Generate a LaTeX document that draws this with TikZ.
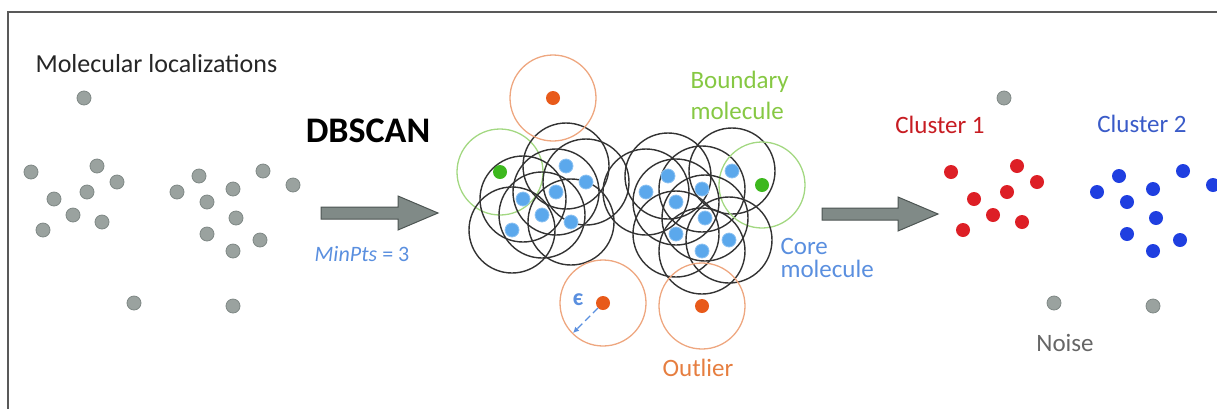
\documentclass[tikz,border=0pt]{standalone}
\usepackage{fontspec}
\setmainfont{Carlito}
\usetikzlibrary{arrows.meta}

\definecolor{dotgrey}{HTML}{9AA29F}
\definecolor{dotedge}{HTML}{7F8885}
\definecolor{coreblue}{HTML}{5BA8EC}
\definecolor{corelabel}{HTML}{5A8FDF}
\definecolor{bdgreen}{HTML}{3DB81E}
\definecolor{bdring}{HTML}{A3D882}
\definecolor{bdlabel}{HTML}{86C843}
\definecolor{outorange}{HTML}{E85A1A}
\definecolor{outring}{HTML}{EEA780}
\definecolor{outlabel}{HTML}{E67E40}
\definecolor{cloneRed}{HTML}{DD1F26}
\definecolor{cltwoBlue}{HTML}{1F3FE0}
\definecolor{cltwoLabel}{HTML}{3A5BC8}
\definecolor{arrowfill}{HTML}{808A87}
\definecolor{arrowedge}{HTML}{4D5553}

\begin{document}
\begin{tikzpicture}[x=1pt,y=-1pt,
    dot/.style={circle,inner sep=0pt,minimum size=14pt},
    rawdot/.style={dot,fill=dotgrey,draw=dotedge,line width=0.8pt},
    coredot/.style={dot,fill=coreblue,draw=coreblue!70!white,line width=0.8pt},
    bddot/.style={dot,fill=bdgreen},
    outdot/.style={dot,fill=outorange},
    redot/.style={dot,fill=cloneRed},
    bludot/.style={dot,fill=cltwoBlue},
    ring/.style={line width=1.4pt,draw=black!80},
    blockarrow/.style={fill=arrowfill,draw=arrowedge,line width=1pt},
    lbl/.style={font=\fontsize{25}{29}\selectfont}]
    \def \r {43}
    \def \ptsA {31/172,97/166,117/182,54/199,87/192,73/215,102/222,43/230}
    \def \ptsB {177/192,199/176,207/202,233/189,263/171,293/185,236/218,207/234,260/240,233/251}
    \def \ptsN {84/98,134/303,233/306}
    \useasboundingbox (0,0) rectangle (1217,408);

    % frame
    \draw[line width=1.5pt,black!65] (8,420) -- (8,12) -- (1230,12);

    % raw localizations
    \foreach \x/\y [count=\i] in \ptsA {\node[rawdot] (ra\i) at (\x,\y) {};}
    \foreach \x/\y [count=\i] in \ptsB {\node[rawdot] (rb\i) at (\x,\y) {};}
    \foreach \x/\y [count=\i] in \ptsN {\node[rawdot] (rn\i) at (\x,\y) {};}
    \node[anchor=base west,text=black!85,font=\fontsize{26}{30}\selectfont] (mol) at (32,72) {Molecular localizations};

    % first arrow
    \node[font=\bfseries\fontsize{36}{40}\selectfont] (dbscan) at (368,131) {DBSCAN};
    \coordinate (a1) at (321,213);
    \draw[blockarrow] (a1) ++(0,-6) -- ++(77,0) -- ++(0,-11) -- ++(40,17) -- ++(-40,17) -- ++(0,-11) -- ++(-77,0) -- cycle;
    \node[font=\fontsize{22}{26}\selectfont,text=corelabel] (minpts) at (362,254) {\textit{MinPts} = 3};

    % eps-neighbourhoods
    \foreach \x/\y [count=\i] in \ptsA {
      \ifnum\i=1
        \draw[line width=1.3pt,bdring] (\x+469,\y) circle (\r);
      \else
        \draw[ring] (\x+469,\y) circle (\r);
      \fi}
    \foreach \x/\y [count=\i] in \ptsB {
      \ifnum\i=6
        \draw[line width=1.3pt,bdring] (\x+469,\y) circle (\r);
      \else
        \draw[ring] (\x+469,\y) circle (\r);
      \fi}
    \foreach \x/\y in \ptsN {\draw[line width=1.3pt,outring] (\x+469,\y) circle (\r);}
    \foreach \x/\y [count=\i] in \ptsA {
      \ifnum\i=1 \node[bddot] (ma\i) at (\x+469,\y) {};
      \else \node[coredot] (ma\i) at (\x+469,\y) {}; \fi}
    \foreach \x/\y [count=\i] in \ptsB {
      \ifnum\i=6 \node[bddot] (mb\i) at (\x+469,\y) {};
      \else \node[coredot] (mb\i) at (\x+469,\y) {}; \fi}
    \foreach \x/\y [count=\i] in \ptsN {\node[outdot] (mn\i) at (\x+469,\y) {};}

    \node[anchor=base west,text=bdlabel,align=left,font=\fontsize{25}{31}\selectfont] (bdtext) at (687,119) {Boundary\\molecule};
    \node[anchor=base west,text=corelabel,align=left,font=\fontsize{25}{23}\selectfont] (coretext) at (777,277) {Core\\molecule};
    \node[lbl,text=outlabel] (outtext) at (698,368) {Outlier};
    \node[text=corelabel,font=\bfseries\fontsize{24}{28}\selectfont] (eps) at (578,300) {є};
    \coordinate (epsend) at (573,333);
    \draw[corelabel,line width=1.3pt,dash pattern=on 7pt off 4pt,-{Latex[length=6pt,width=6pt]}] (mn2) -- (epsend);

    % second arrow
    \coordinate (a2) at (822,214);
    \draw[blockarrow] (a2) ++(0,-6) -- ++(76,0) -- ++(0,-11) -- ++(40,17) -- ++(-40,17) -- ++(0,-11) -- ++(-76,0) -- cycle;

    % clusters
    \foreach \x/\y [count=\i] in \ptsA {\node[redot] (ca\i) at (\x+920,\y) {};}
    \foreach \x/\y [count=\i] in \ptsB {\node[bludot] (cb\i) at (\x+920,\y) {};}
    \foreach \x/\y [count=\i] in \ptsN {\node[rawdot] (cn\i) at (\x+920,\y) {};}
    \node[lbl,text=cloneRed!90!black] (cl1) at (940,125) {Cluster 1};
    \node[lbl,text=cltwoLabel] (cl2) at (1142,124) {Cluster 2};
    \node[lbl,text=black!60] (noise) at (1065,343) {Noise};
  \end{tikzpicture}
\end{document}
